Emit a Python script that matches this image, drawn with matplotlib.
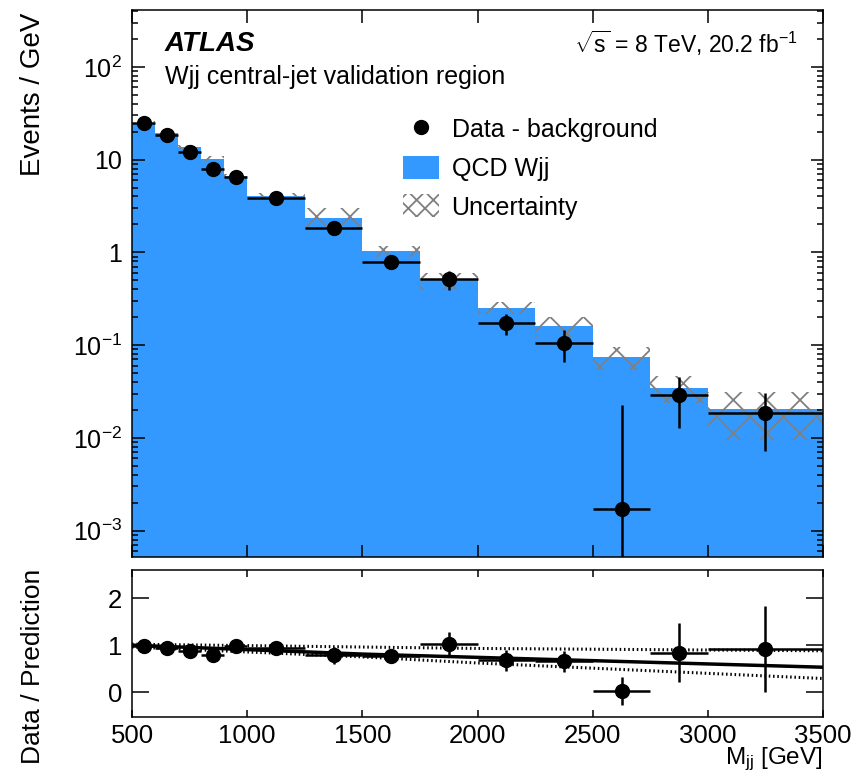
import matplotlib
matplotlib.use('Agg')
import matplotlib.pyplot as plt
import matplotlib.ticker as mticker
from matplotlib.lines import Line2D
from matplotlib.patches import Patch
import numpy as np

plt.rcParams['font.family'] = ['Liberation Sans', 'DejaVu Sans']
plt.rcParams['mathtext.fontset'] = 'custom'
plt.rcParams['mathtext.rm'] = 'Liberation Sans'
plt.rcParams['mathtext.it'] = 'Liberation Sans:italic'
plt.rcParams['mathtext.bf'] = 'Liberation Sans:bold'
plt.rcParams['hatch.linewidth'] = 1.3

# M_jj binning [GeV]
bin_edges = np.array([500, 600, 700, 800, 900, 1000, 1250, 1500,
                      1750, 2000, 2250, 2500, 2750, 3000, 3500])

# QCD Wjj prediction [events / GeV] and its uncertainty
qcd_wjj = np.array([25.0, 19.5, 13.6, 10.2, 6.6, 4.1, 2.37,
                    1.03, 0.50, 0.254, 0.161, 0.075, 0.0348, 0.0203])
qcd_wjj_unc = np.array([1.2, 1.0, 0.8, 0.6, 0.35, 0.3, 0.6,
                        0.13, 0.105, 0.036, 0.039, 0.021, 0.0113, 0.0108])

# data minus non-Wjj backgrounds
data_sub = np.array([24.5, 18.2, 12.0, 8.0, 6.5, 3.85, 1.85,
                     0.79, 0.51, 0.172, 0.105, 0.0017, 0.0292, 0.0187])
data_err = np.array([0.6, 0.5, 0.4, 0.3, 0.25, 0.15, 0.25,
                     0.1, 0.12, 0.042, 0.04, 0.021, 0.0165, 0.0115])
ratio_err = np.array([0.03, 0.03, 0.03, 0.03, 0.03, 0.04, 0.18,
                      0.14, 0.27, 0.22, 0.22, 0.30, 0.63, 0.92])

# linear fit to the ratio with its band
fit_mass = [500, 1500, 2000, 3500]
fit_central = [1.0, 0.81, 0.74, 0.53]
fit_upper = [1.02, 0.96, 0.93, 0.88]
fit_lower = [0.96, 0.75, 0.62, 0.29]

BLUE = '#3399ff'
HATCH_GREY = '#808080'


def log_label(y, pos):
    n = int(round(np.log10(y)))
    if n == 0:
        return '1'
    if n == 1:
        return '10'
    return '10$^{%d}$' % n


centers = 0.5 * (bin_edges[1:] + bin_edges[:-1])
half_width = 0.5 * np.diff(bin_edges)

fig = plt.figure(figsize=(8.63, 7.74), dpi=100)
ax = fig.add_axes([0.153, 0.2804, 0.8007, 0.7067])
rax = fig.add_axes([0.153, 0.0736, 0.8007, 0.190])

# main panel
ax.stairs(qcd_wjj, bin_edges, fill=True, color=BLUE, baseline=1e-6, zorder=1)
ax.bar(bin_edges[:-1], 2 * qcd_wjj_unc, width=np.diff(bin_edges),
       bottom=qcd_wjj - qcd_wjj_unc, align='edge', fill=False,
       hatch='x', edgecolor=HATCH_GREY, linewidth=0, zorder=2)
# keep the lower end of the error bar positive on the log axis
err_lo = np.minimum(data_err, data_sub * (1 - 1e-6))
ax.errorbar(centers, data_sub, xerr=half_width, yerr=[err_lo, data_err],
            fmt='o', color='k', ms=10, elinewidth=1.8, capsize=0, zorder=3)

ax.set_xlim(500, 3500)
ax.set_yscale('log')
ax.set_ylim(5.2e-4, 410)
ax.xaxis.set_major_locator(mticker.MultipleLocator(500))
ax.yaxis.set_major_locator(mticker.LogLocator(base=10, numticks=15))
ax.yaxis.set_minor_locator(mticker.LogLocator(base=10, subs=np.arange(2, 10), numticks=15))
ax.yaxis.set_major_formatter(mticker.FuncFormatter(log_label))
ax.yaxis.set_minor_formatter(mticker.NullFormatter())
ax.tick_params(which='both', direction='in', top=True, right=True,
               labelbottom=False, labelsize=18, width=1.1)
ax.tick_params(which='major', length=9, pad=7)
ax.tick_params(which='minor', length=4.5)

handles = [Line2D([], [], marker='o', color='k', ls='none', ms=10),
           Patch(facecolor=BLUE, edgecolor='none'),
           Patch(facecolor='none', edgecolor=HATCH_GREY, hatch='xx', lw=0)]
ax.legend(handles, ['Data - background', 'QCD Wjj', 'Uncertainty'],
          loc='upper left', bbox_to_anchor=(0.467, 0.849),
          bbox_transform=fig.transFigure, frameon=False, fontsize=18,
          handlelength=1.44, handleheight=1.04, handletextpad=0.5,
          labelspacing=0.55, borderpad=0, borderaxespad=0)

fig.text(165 / 863, 1 - 44 / 774, 'ATLAS', fontsize=20, fontweight='bold',
         fontstyle='italic', va='center')
fig.text(165 / 863, 1 - 77 / 774, 'Wjj central-jet validation region',
         fontsize=18, va='center')
fig.text(798 / 863, 1 - 43 / 774, r'$\sqrt{\mathrm{s}}$ = 8 TeV, 20.2 fb$^{-1}$',
         fontsize=16.5, ha='right', va='center')

# ratio panel
ratio = data_sub / qcd_wjj
rax.plot(fit_mass, fit_upper, color='k', lw=2.2, ls=(0, (0.5, 0.9)), zorder=2)
rax.plot(fit_mass, fit_lower, color='k', lw=2.2, ls=(0, (0.5, 0.9)), zorder=2)
rax.plot(fit_mass, fit_central, color='k', lw=2.5, zorder=2)
rax.errorbar(centers, ratio, xerr=half_width, yerr=ratio_err,
             fmt='o', color='k', ms=10, elinewidth=1.8, capsize=0, zorder=3)

rax.set_xlim(500, 3500)
rax.set_ylim(-0.53, 2.6)
rax.xaxis.set_major_locator(mticker.MultipleLocator(500))
rax.yaxis.set_major_locator(mticker.FixedLocator([0, 1, 2]))
rax.tick_params(direction='in', top=True, right=True, labelsize=18.5, width=1.1)
rax.tick_params(axis='x', length=5, pad=5)
rax.tick_params(axis='y', length=12, pad=7)

for a in (ax, rax):
    for s in a.spines.values():
        s.set_linewidth(1.1)

fig.text(0.038, 1 - 13 / 774, 'Events / GeV', fontsize=20, rotation=90,
         ha='center', va='top')
fig.text(0.038, 1 - 569 / 774, 'Data / Prediction', fontsize=19, rotation=90,
         ha='center', va='top')
fig.text(823 / 863, 1 - 764 / 774, r'M$_{\rm jj}$ [GeV]', fontsize=17.5,
         ha='right', va='baseline')

fig.savefig('out.png', dpi=100)
